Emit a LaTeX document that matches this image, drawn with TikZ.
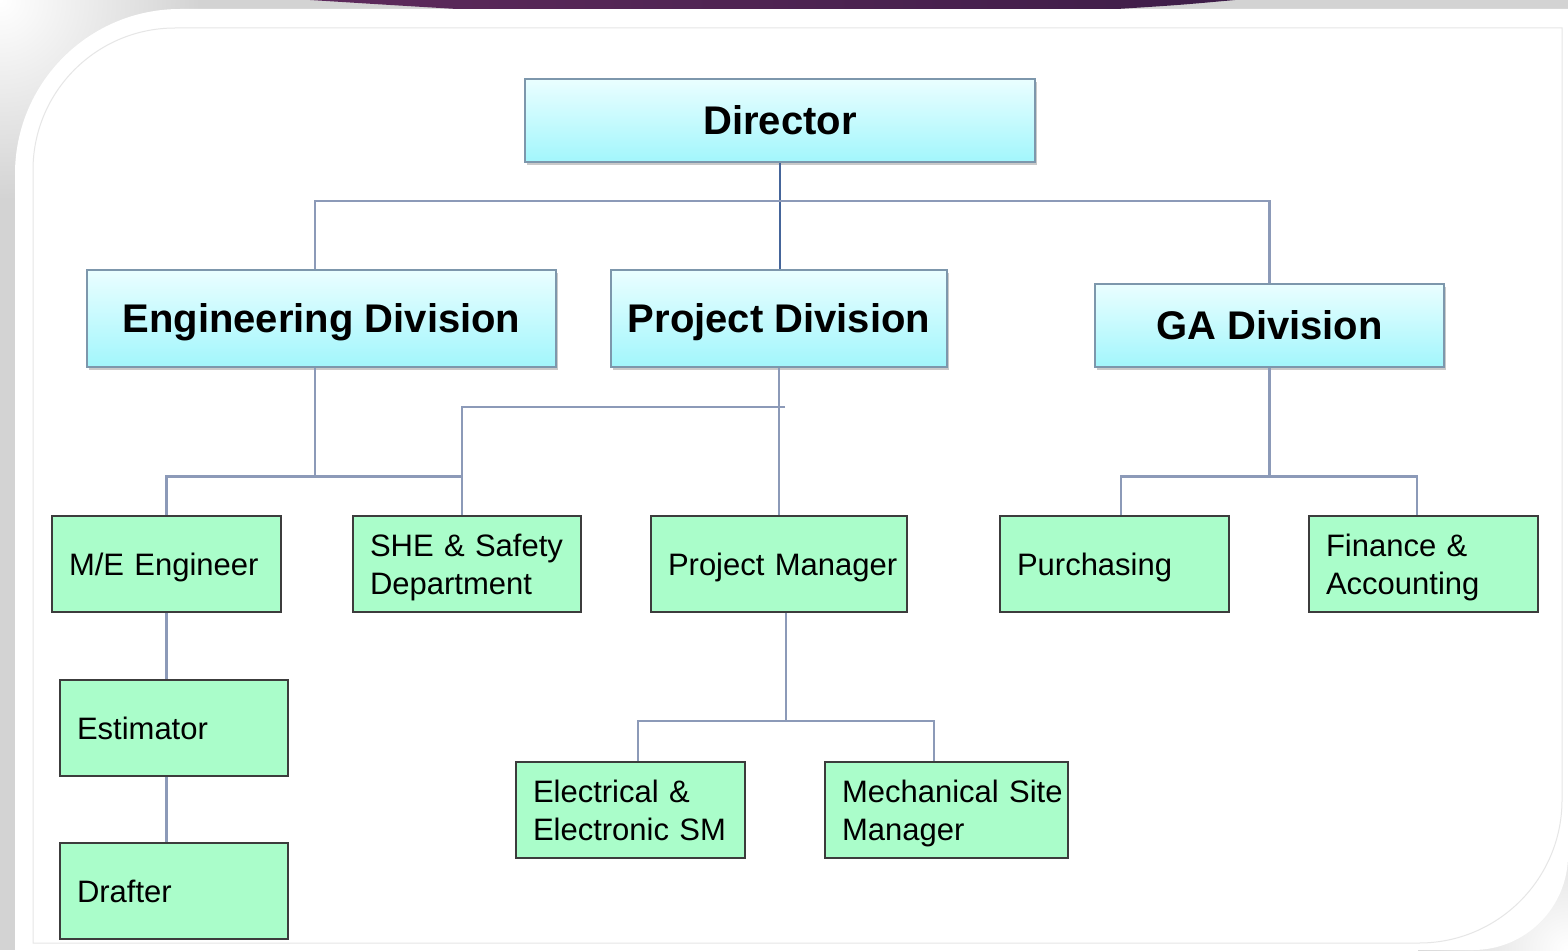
\documentclass[tikz,border=0pt]{standalone}
\usepackage{fontspec}
\setmainfont{Liberation Sans}
\usetikzlibrary{shadows}
\definecolor{bggrey}{HTML}{D3D3D3}
\definecolor{frameline}{HTML}{E6E6E6}
\definecolor{purpA}{HTML}{5E2A5C}
\definecolor{purpB}{HTML}{3E1D48}
\definecolor{cyanTop}{HTML}{EAFEFF}
\definecolor{cyanBot}{HTML}{A2F6FC}
\definecolor{cyanLine}{HTML}{7D97AC}
\definecolor{mint}{HTML}{AAFDCA}
\definecolor{mintLine}{HTML}{3C3C3C}
\definecolor{conn}{HTML}{8C9AB8}
\definecolor{connDark}{HTML}{45659A}
\begin{document}
\begin{tikzpicture}[x=1pt,y=-1pt,
  divbox/.style={draw=cyanLine, line width=2.5pt, top color=cyanTop, bottom color=cyanBot,
    font=\fontsize{40}{48}\selectfont\bfseries, inner sep=0pt, text depth=0pt,
    drop shadow={shadow xshift=1.5pt, shadow yshift=-3pt, opacity=0.35, fill=black!60}},
  gbox/.style={draw=mintLine, line width=2pt, fill=mint, font=\fontsize{31}{38}\selectfont,
    align=left, inner xsep=17pt, inner ysep=0pt, minimum height=96pt, text width=#1},
  lowone/.style={text depth=0pt},
  lowtwo/.style={text depth=37.5pt},
  connector/.style={draw=conn, line width=2.5pt},
  connectorD/.style={draw=connDark, line width=2pt}
]
\useasboundingbox (0,0) rectangle (1568,950);
% frame
\fill[bggrey] (0,0) rectangle (1568,950);
\shade[inner color=white, outer color=bggrey] (0,0) circle (200);
\shade[inner color=white, outer color=bggrey] (1568,950) circle (150);
\fill[white] (15,950) -- (15,174) arc(180:270:165) -- (1568,9) -- (1568,855) arc(0:90:95) -- cycle;
\draw[frameline, line width=1pt] (33,943) -- (33,170) arc(180:270:142) -- (1562,28) -- (1562,800) arc(0:90:143) -- cycle;
\shade[left color=purpA, right color=purpB] (310,0) -- (1235,0) .. controls (1180,5) .. (1117,9) -- (457,9) .. controls (390,5) .. (310,0) -- cycle;

% division level
\node[divbox, minimum width=510pt, minimum height=83pt] (dir) at (780,120.5) {Director};
\node[divbox, minimum width=469pt, minimum height=97pt] (eng) at (321.5,318.5) {Engineering Division};
\node[divbox, minimum width=336pt, minimum height=97pt] (proj) at (779,318.5) {Project Division};
\node[divbox, minimum width=349pt, minimum height=83pt] (ga) at (1269.5,325.5) {GA Division};

% staff level
\node[gbox=195pt, lowone] (me) at (166.5,564) {M/E Engineer};
\node[gbox=194pt, lowtwo] (she) at (467,564) {SHE \& Safety\\Department};
\node[gbox=222pt, lowone] (pm) at (779,564) {\mbox{Project Manager}};
\node[gbox=195pt, lowone] (pur) at (1114.5,564) {Purchasing};
\node[gbox=195pt, lowtwo] (fin) at (1423.5,564) {Finance \&\\Accounting};
\node[gbox=194pt] (est) at (174,728) {Estimator};
\node[gbox=194pt] (dra) at (174,891) {Drafter};
\node[gbox=195pt] (ele) at (630.5,810) {Electrical \&\\Electronic SM};
\node[gbox=209pt, lowtwo] (mec) at (946.5,810) {\mbox{Mechanical Site}\\Manager};

% connectors
\draw[connectorD] (dir.south) -- (dir.south |- proj.north);
\draw[connector] ([xshift=-6.5pt]eng.north) -- ++(0,-68) -| (ga.north);

\coordinate (engB) at ([xshift=-6.5pt]eng.south);
\coordinate (sheT) at ([xshift=-5pt]she.north);
\draw[connector] (engB) -- ++(0,108) coordinate (j1);
\draw[connector] (me.north) |- (j1) -| (sheT);

\draw[connector] (proj.south) -- (pm.north);
\coordinate (j2) at (785,407);
\draw[connector] (j2) -| (sheT);

\draw[connector] (ga.south) -- ++(0,108) coordinate (j3);
\coordinate (purT) at ([xshift=6.5pt]pur.north);
\coordinate (finT) at ([xshift=-6.5pt]fin.north);
\draw[connector] (purT) |- (j3) -| (finT);

\draw[connector] (me.south) -- (me.south |- est.north);
\draw[connector] (me.south |- est.south) -- (me.south |- dra.north);

\coordinate (pmB) at ([xshift=7pt]pm.south);
\draw[connector] (pmB) -- ++(0,108) coordinate (j4);
\coordinate (eleT) at ([xshift=7.5pt]ele.north);
\coordinate (mecT) at ([xshift=-12.5pt]mec.north);
\draw[connector] (eleT) |- (j4) -| (mecT);
\end{tikzpicture}
\end{document}
